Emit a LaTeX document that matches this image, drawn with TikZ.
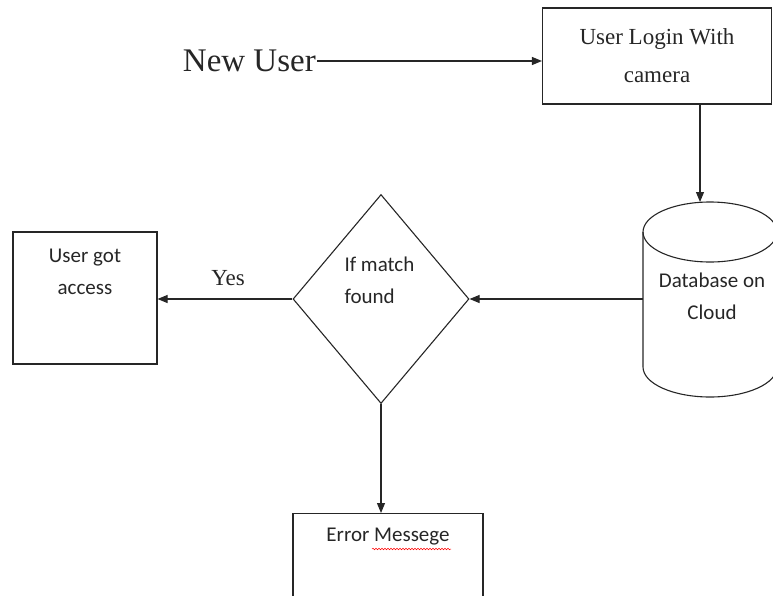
\documentclass[tikz,border=0pt]{standalone}
\usepackage{fontspec}
\setmainfont{Liberation Serif}
\newfontfamily\calibri{Carlito}
\usetikzlibrary{shapes.geometric,arrows.meta,decorations.pathmorphing}
\tikzset{
  flowline/.style={line width=1.1pt, black!85, -{Triangle[length=10pt,width=8pt]}},
  outline/.style={draw=black!85, line width=1.1pt},
  calitext/.style={font=\calibri\fontsize{21}{32}\selectfont, align=center, text=black!85},
  timestext/.style={font=\fontsize{23}{38}\selectfont, align=center, text=black!85},
}
\begin{document}
\begin{tikzpicture}[x=1pt,y=-1pt]
        \useasboundingbox (0,0) rectangle (773,595);
        \coordinate (dbtop) at (700,202);
        \node[font=\fontsize{33}{40}\selectfont, text=black!85, anchor=east, inner sep=1pt] (newuser) at (317,61) {New User};
        \node[outline, timestext, minimum width=229pt, minimum height=96pt] (login) at (657,56) {User Login With\\camera};
        \node[minimum width=134pt, minimum height=195pt] (db) at (710,299) {};
        \node[calitext] (dbtext) at (712,296) {Database on\\Cloud};
        \node[outline, diamond, minimum width=176pt, minimum height=209pt, inner sep=0pt] (match) at (381,299) {};
        \node[calitext, align=left, anchor=west] (matchtext) at (341,280) {If match\\found};
        \node[outline, minimum width=144pt, minimum height=132pt] (access) at (85,298) {};
        \node[calitext] (accesstext) at (85,272) {User got\\access};
        \node[outline, minimum width=190pt, minimum height=140pt, anchor=north] (err) at (388,513) {};
        \node[calitext] (errtext) at (388,537) {Error Messege};
        \node[timestext] (yes) at (228,278) {Yes};
        \begin{scope}
            \clip (0,0) rectangle (773,595);
            \draw[black!85, line width=1.1pt] (710,232) ellipse [x radius=67pt, y radius=30pt];
            \draw[black!85, line width=1.1pt] (643,232) -- (643,367) arc[start angle=180, end angle=360, x radius=67pt, y radius=30pt] -- (777,232);
        \end{scope}
        \draw[red, line width=0.5pt, decorate, decoration={snake, amplitude=0.8pt, segment length=3pt}] (372,549) -- (451,549);
        \draw[flowline] (newuser.east) -- (newuser.east -| login.west);
        \draw[flowline] (login.south -| dbtop) -- (dbtop);
        \draw[flowline] (db.west) -- (match.east);
        \draw[flowline] (match.west) -- (match.west -| access.east);
        \draw[flowline] (match.south) -- (match.south |- err.north);
    \end{tikzpicture}
\end{document}
